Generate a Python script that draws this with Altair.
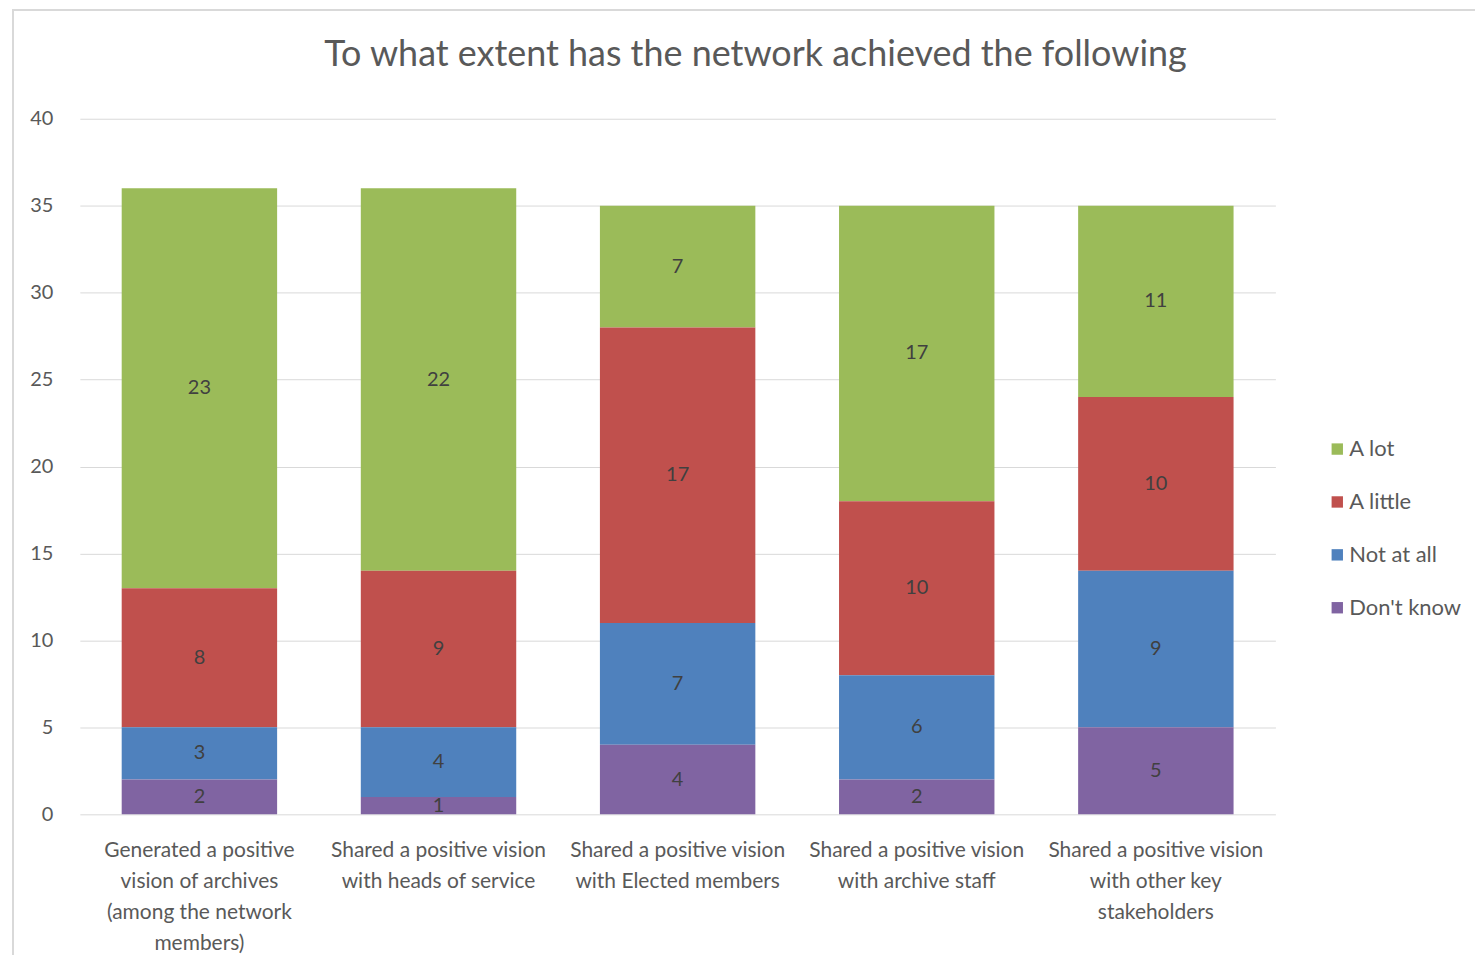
import altair as alt
import pandas as pd

categories = [
    "Generated a positive\nvision of archives\n(among the network\nmembers)",
    "Shared a positive vision\nwith heads of service",
    "Shared a positive vision\nwith Elected members",
    "Shared a positive vision\nwith archive staff",
    "Shared a positive vision\nwith other key\nstakeholders",
]
series = ["A lot", "A little", "Not at all", "Don't know"]
colors = ["#9BBB59", "#C0504D", "#4F81BD", "#8064A2"]

a_lot = [23, 22, 7, 17, 11]
a_little = [8, 9, 17, 10, 10]
not_at_all = [3, 4, 7, 6, 9]
dont_know = [2, 1, 4, 2, 5]

values = {"A lot": a_lot, "A little": a_little, "Not at all": not_at_all, "Don't know": dont_know}
stack_rank = {"Don't know": 0, "Not at all": 1, "A little": 2, "A lot": 3}

rows = []
for s in series:
    for i, c in enumerate(categories):
        rows.append({"cat": c, "series": s, "value": values[s][i], "rank": stack_rank[s]})
df = pd.DataFrame(rows)

W, H = 1198, 697
FONT = "Lato"

base = alt.Chart(df).transform_stack(
    stack="value", groupby=["cat"], as_=["y0", "y1"],
    sort=[alt.SortField("rank", order="ascending")]
).transform_calculate(mid="(datum.y0 + datum.y1) / 2")

x_enc = alt.X("cat:N", sort=categories, title=None,
              scale=alt.Scale(paddingInner=0.35, paddingOuter=0.175),
              axis=alt.Axis(labelExpr="split(datum.label, '\\n')", labelAngle=0,
                            labelFont=FONT, labelFontSize=21, labelColor="#595959",
                            labelLineHeight=31, labelPadding=25, ticks=False, domain=False,
                            labelOverlap=False, labelBound=False, labelLimit=0))

bars = base.mark_bar().encode(
    x=x_enc,
    y=alt.Y("y0:Q", title=None, scale=alt.Scale(domain=[0, 40]),
            axis=alt.Axis(values=[0, 5, 10, 15, 20, 25, 30, 35, 40], labelFont=FONT,
                          labelFontSize=20, labelColor="#595959", labelPadding=27,
                          ticks=False, domain=False, gridColor="#d9d9d9", gridWidth=1)),
    y2="y1:Q",
    color=alt.Color("series:N", scale=alt.Scale(domain=series, range=colors),
                    legend=alt.Legend(title=None, orient="none", legendX=1249, legendY=320,
                                      symbolType="square", symbolSize=130, symbolStrokeWidth=0,
                                      labelFont=FONT, labelFontSize=22, labelColor="#595959",
                                      rowPadding=31, labelOffset=1)),
)

labels = base.mark_text(font=FONT, fontSize=20, color="#404040", baseline="middle").encode(
    x=alt.X("cat:N", sort=categories),
    y=alt.Y("mid:Q"),
    text=alt.Text("value:Q"),
)

frame = alt.Chart(pd.DataFrame({"k": [0]})).mark_rect(
    fill=None, stroke="#d9d9d9", strokeWidth=2, clip=False
).encode(
    x=alt.value(-67), x2=alt.value(W + 400), y=alt.value(-109), y2=alt.value(H + 400)
)

chart = alt.layer(frame, bars, labels).properties(
    width=W, height=H,
    title=alt.TitleParams("To what extent has the network achieved the following",
                          font=FONT, fontSize=36, fontWeight="normal", color="#595959",
                          anchor="middle", dx=78, offset=-65),
    autosize=alt.AutoSizeParams(type="none"),
    padding={"left": 72, "top": 110, "right": 200, "bottom": 140},
).configure_view(stroke=None)

chart.save("out.html", embed_options={"renderer": "svg", "actions": False})
